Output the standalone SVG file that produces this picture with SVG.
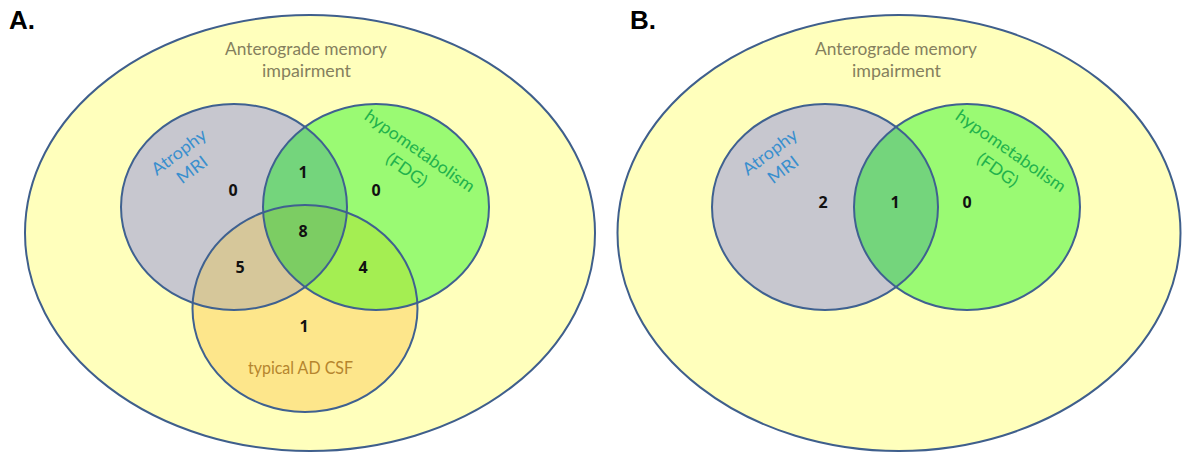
<svg xmlns="http://www.w3.org/2000/svg" width="1182" height="454" viewBox="0 0 1182 454">
<style>
.bg{fill:#ffffff}
.outer{fill:#ffffbc;stroke:#3f5f8c;stroke-width:2}
.atr{fill:#c7c7cf}
.grn{fill:#9afa73}
.csf{fill:#fde68b}
.ag{fill:#74d57c}
.ac{fill:#d6c79a}
.gc{fill:#a4ee52}
.agc{fill:#7ccd63}
.ring{fill:none;stroke:#3f6190;stroke-width:2}
.panel{font-family:"Liberation Sans",Arial,sans-serif;font-weight:bold;font-size:26px;fill:#000}
.title{font-family:Lato,"Open Sans",sans-serif;font-size:17.5px;fill:#857f5e;text-anchor:middle}
.num{font-family:"Open Sans","Liberation Sans",sans-serif;font-weight:bold;font-size:16px;fill:#111;text-anchor:middle}
.blue{font-family:Lato,"Open Sans",sans-serif;font-size:17px;fill:#3a8fce;text-anchor:middle}
.green{font-family:Lato,"Open Sans",sans-serif;font-size:17px;fill:#22b24c;text-anchor:middle}
.brown{font-family:Lato,"Open Sans",sans-serif;font-size:17px;fill:#b5852e;text-anchor:middle}
</style>
<defs>
<clipPath id="cA_atr"><ellipse cx="234" cy="207" rx="113" ry="103"/></clipPath>
<clipPath id="cA_grn"><ellipse cx="376" cy="207" rx="113" ry="103"/></clipPath>
<clipPath id="cA_csf"><ellipse cx="305" cy="308.5" rx="112.5" ry="103.5"/></clipPath>
<clipPath id="cB_atr"><ellipse cx="825" cy="207" rx="113" ry="103"/></clipPath>
</defs>
<rect class="bg" x="0" y="0" width="1182" height="454"/>

<g id="panelA">
  <text class="panel" x="9" y="29">A.</text>
  <g id="A_outer">
    <ellipse class="outer" cx="310" cy="233" rx="285" ry="218"/>
    <text class="title" x="306" y="55" textLength="162" lengthAdjust="spacingAndGlyphs">Anterograde memory</text>
    <text class="title" x="306.5" y="77" textLength="89" lengthAdjust="spacingAndGlyphs">impairment</text>
  </g>
  <g id="A_fills">
    <ellipse class="atr" cx="234" cy="207" rx="113" ry="103"/>
    <ellipse class="grn" cx="376" cy="207" rx="113" ry="103"/>
    <ellipse class="csf" cx="305" cy="308.5" rx="112.5" ry="103.5"/>
    <ellipse class="ag" cx="376" cy="207" rx="113" ry="103" clip-path="url(#cA_atr)"/>
    <ellipse class="ac" cx="305" cy="308.5" rx="112.5" ry="103.5" clip-path="url(#cA_atr)"/>
    <ellipse class="gc" cx="305" cy="308.5" rx="112.5" ry="103.5" clip-path="url(#cA_grn)"/>
    <g clip-path="url(#cA_atr)">
      <ellipse class="agc" cx="305" cy="308.5" rx="112.5" ry="103.5" clip-path="url(#cA_grn)"/>
    </g>
  </g>
  <g id="A_atrophy">
    <ellipse class="ring" cx="234" cy="207" rx="113" ry="103"/>
    <g transform="translate(186,161.5) rotate(-37)">
      <text class="blue" x="0" y="-6" textLength="64" lengthAdjust="spacingAndGlyphs">Atrophy</text>
      <text class="blue" x="0" y="16" textLength="34" lengthAdjust="spacingAndGlyphs">MRI</text>
    </g>
  </g>
  <g id="A_hypometabolism">
    <ellipse class="ring" cx="376" cy="207" rx="113" ry="103"/>
    <g transform="translate(412.5,161.5) rotate(35)">
      <text class="green" x="0" y="-7" textLength="130" lengthAdjust="spacingAndGlyphs">hypometabolism</text>
      <text class="green" x="0" y="16" textLength="46" lengthAdjust="spacingAndGlyphs">(FDG)</text>
    </g>
  </g>
  <g id="A_csf">
    <ellipse class="ring" cx="305" cy="308.5" rx="112.5" ry="103.5"/>
    <text class="brown" x="300.5" y="374" textLength="105" lengthAdjust="spacingAndGlyphs">typical AD CSF</text>
  </g>
  <g id="A_counts">
    <text class="num" x="233" y="196">0</text>
    <text class="num" x="303" y="178">1</text>
    <text class="num" x="376" y="196">0</text>
    <text class="num" x="303" y="237">8</text>
    <text class="num" x="240" y="273">5</text>
    <text class="num" x="363" y="273">4</text>
    <text class="num" x="304" y="332">1</text>
  </g>
</g>

<g id="panelB">
  <text class="panel" x="630" y="29">B.</text>
  <g id="B_outer">
    <ellipse class="outer" cx="899" cy="233" rx="281.5" ry="218"/>
    <text class="title" x="896" y="55" textLength="162" lengthAdjust="spacingAndGlyphs">Anterograde memory</text>
    <text class="title" x="896.5" y="77" textLength="89" lengthAdjust="spacingAndGlyphs">impairment</text>
  </g>
  <g id="B_fills">
    <ellipse class="atr" cx="825" cy="207" rx="113" ry="103"/>
    <ellipse class="grn" cx="967" cy="207" rx="113" ry="103"/>
    <ellipse class="ag" cx="967" cy="207" rx="113" ry="103" clip-path="url(#cB_atr)"/>
  </g>
  <g id="B_atrophy">
    <ellipse class="ring" cx="825" cy="207" rx="113" ry="103"/>
    <g transform="translate(777,161.5) rotate(-37)">
      <text class="blue" x="0" y="-6" textLength="64" lengthAdjust="spacingAndGlyphs">Atrophy</text>
      <text class="blue" x="0" y="16" textLength="34" lengthAdjust="spacingAndGlyphs">MRI</text>
    </g>
  </g>
  <g id="B_hypometabolism">
    <ellipse class="ring" cx="967" cy="207" rx="113" ry="103"/>
    <g transform="translate(1003.5,161.5) rotate(35)">
      <text class="green" x="0" y="-7" textLength="130" lengthAdjust="spacingAndGlyphs">hypometabolism</text>
      <text class="green" x="0" y="16" textLength="46" lengthAdjust="spacingAndGlyphs">(FDG)</text>
    </g>
  </g>
  <g id="B_counts">
    <text class="num" x="823" y="208">2</text>
    <text class="num" x="895" y="208">1</text>
    <text class="num" x="967" y="208">0</text>
  </g>
</g>

<g id="connectors"></g>
</svg>
